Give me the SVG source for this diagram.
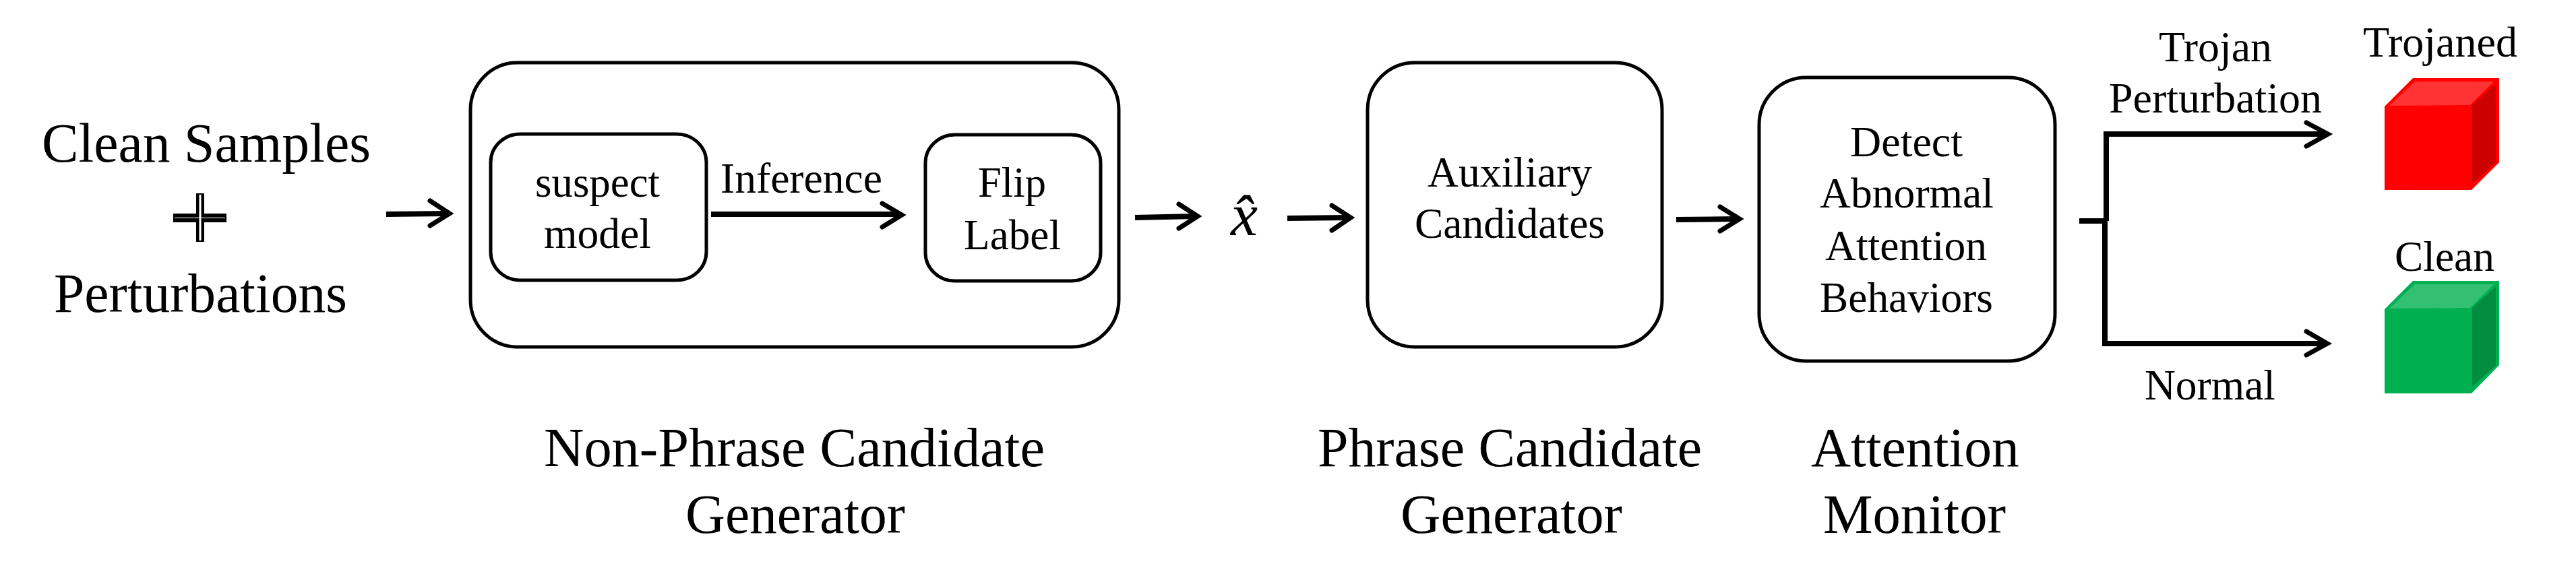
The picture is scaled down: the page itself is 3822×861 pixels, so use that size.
<svg xmlns="http://www.w3.org/2000/svg" width="3822" height="861" viewBox="0 0 3822 861">
<style>
text{font-family:"Liberation Serif","Times New Roman",serif;fill:#000}
.l{font-size:83px}.m{font-size:64px}.s{font-size:63px}
.box{fill:#fff;stroke:#000;stroke-width:5}
.shaft{fill:none;stroke:#000;stroke-width:8}
.head{fill:none;stroke:#000;stroke-width:7;stroke-linecap:round;stroke-linejoin:miter}
</style>
<rect width="3822" height="861" fill="#fff"/>
<g id="input">
<text class="l" x="62" y="240" textLength="488" lengthAdjust="spacingAndGlyphs">Clean Samples</text>
<rect x="291" y="287" width="12" height="72"/><rect x="257" y="317" width="79" height="13"/>
<rect x="295.500" y="289" width="3" height="68" fill="#fff"/><rect x="259" y="323" width="75" height="1" fill="#fff"/>
<text class="l" x="80" y="463" textLength="435" lengthAdjust="spacingAndGlyphs">Perturbations</text>
</g>
<g id="non-phrase-generator">
<rect class="box" x="698" y="93" width="962" height="422" rx="70" ry="70"/>
<text class="l" x="807" y="692" textLength="743" lengthAdjust="spacingAndGlyphs">Non-Phrase Candidate</text>
<text class="l" x="1017" y="791" textLength="326" lengthAdjust="spacingAndGlyphs">Generator</text>
</g>
<g id="suspect-model">
<rect class="box" x="728" y="199" width="320" height="217" rx="44" ry="42"/>
<text class="s" x="794" y="292" textLength="185" lengthAdjust="spacingAndGlyphs">suspect</text>
<text class="s" x="807" y="368" textLength="159" lengthAdjust="spacingAndGlyphs">model</text>
</g>
<g id="flip-label">
<rect class="box" x="1373" y="200" width="260" height="217" rx="44" ry="42"/>
<text class="s" x="1451" y="292" textLength="101" lengthAdjust="spacingAndGlyphs">Flip</text>
<text class="s" x="1430" y="370" textLength="144" lengthAdjust="spacingAndGlyphs">Label</text>
</g>
<g id="x-hat">
<text x="1826" y="349" font-size="88" font-style="italic" textLength="40" lengthAdjust="spacingAndGlyphs">x̂</text>
</g>
<g id="phrase-generator">
<rect class="box" x="2029" y="93" width="437" height="422" rx="70" ry="70"/>
<text class="s" x="2118" y="277" textLength="244" lengthAdjust="spacingAndGlyphs">Auxiliary</text>
<text class="s" x="2099" y="353" textLength="282" lengthAdjust="spacingAndGlyphs">Candidates</text>
<text class="l" x="1955" y="692" textLength="570" lengthAdjust="spacingAndGlyphs">Phrase Candidate</text>
<text class="l" x="2078" y="791" textLength="329" lengthAdjust="spacingAndGlyphs">Generator</text>
</g>
<g id="attention-monitor">
<rect class="box" x="2610" y="115" width="439" height="421" rx="70" ry="70"/>
<text class="s" x="2745" y="232" textLength="167" lengthAdjust="spacingAndGlyphs">Detect</text>
<text class="s" x="2700" y="308" textLength="258" lengthAdjust="spacingAndGlyphs">Abnormal</text>
<text class="s" x="2708" y="386" textLength="240" lengthAdjust="spacingAndGlyphs">Attention</text>
<text class="s" x="2700" y="463" textLength="257" lengthAdjust="spacingAndGlyphs">Behaviors</text>
<text class="l" x="2687" y="692" textLength="309" lengthAdjust="spacingAndGlyphs">Attention</text>
<text class="l" x="2705" y="791" textLength="271" lengthAdjust="spacingAndGlyphs">Monitor</text>
</g>
<g id="trojaned">
<text class="m" x="3506" y="84" textLength="229" lengthAdjust="spacingAndGlyphs">Trojaned</text>
<polygon points="3538,158 3580,116 3708,116 3708,241 3667,282 3538,282" fill="#f00"/>
<polygon points="3545,157 3583,121 3700,121 3665,156" fill="#f33"/>
<polygon points="3668,156 3703,124 3703,241 3668,273" fill="#c00"/>
</g>
<g id="clean">
<text class="m" x="3553" y="402" textLength="148" lengthAdjust="spacingAndGlyphs">Clean</text>
<polygon points="3538,459 3580,417 3708,417 3708,542 3667,584 3538,584" fill="#00b050"/>
<polygon points="3545,458 3583,422 3700,422 3665,457" fill="#33c073"/>
<polygon points="3668,457 3703,425 3703,542 3668,574" fill="#008d40"/>
</g>
<g id="connectors">
<path class="shaft" d="M573 318L664 317"/><path class="head" d="M638 298L667 317L638 335"/>
<path class="shaft" d="M1055 318L1334 318"/><path class="head" d="M1309 302L1338 319L1309 337"/>
<path class="shaft" d="M1684 323L1774 321"/><path class="head" d="M1749 303L1777 321L1749 339"/>
<path class="shaft" d="M1910 324L2001 323"/><path class="head" d="M1976 305L2004 323L1976 342"/>
<path class="shaft" d="M2487 326L2578 325"/><path class="head" d="M2552 307L2581 325L2552 343"/>
<path class="shaft" d="M3085 328L3127 328"/>
<path class="shaft" d="M3125 328L3125 199L3450 199"/><path class="head" d="M3422 182L3454 199L3422 217"/>
<path class="shaft" d="M3123 328L3123 510L3450 510"/><path class="head" d="M3422 492L3453 510L3422 527"/>
</g>
<g id="edge-labels">
<text class="s" x="1069" y="286" textLength="240" lengthAdjust="spacingAndGlyphs">Inference</text>
<text class="m" x="3203" y="91" textLength="168" lengthAdjust="spacingAndGlyphs">Trojan</text>
<text class="m" x="3129" y="167" textLength="316" lengthAdjust="spacingAndGlyphs">Perturbation</text>
<text class="m" x="3182" y="593" textLength="194" lengthAdjust="spacingAndGlyphs">Normal</text>
</g>
</svg>
